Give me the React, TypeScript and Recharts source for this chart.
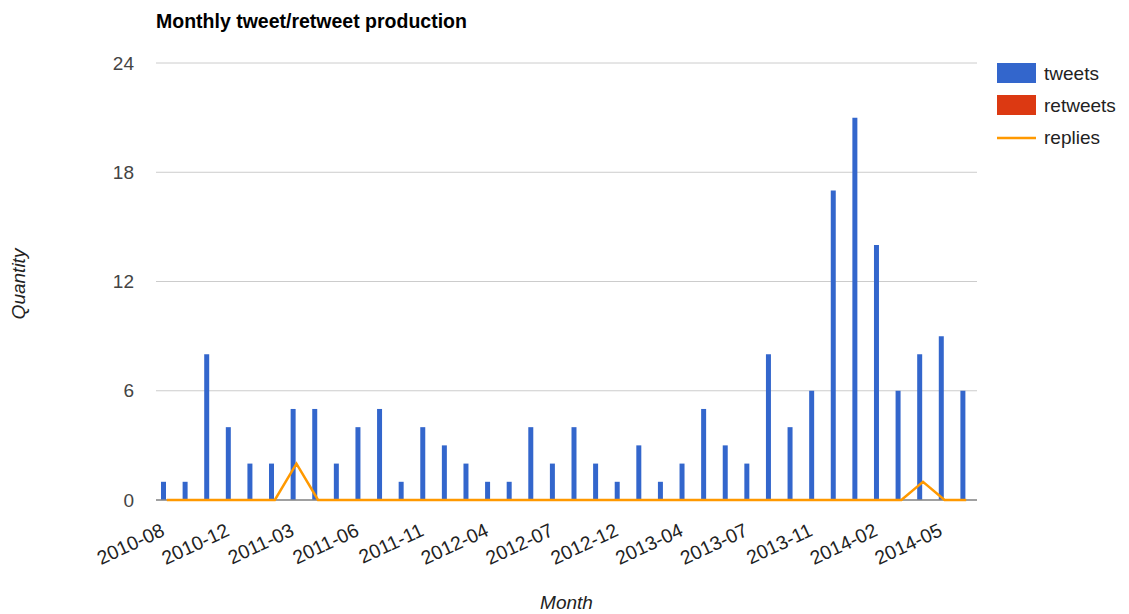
import React from 'react';
import { ComposedChart, Bar, Line, XAxis, YAxis, CartesianGrid, Legend, Label, ReferenceLine } from 'recharts';

const months = [
  '2010-08', '2010-09', '2010-10', '2010-12', '2011-01', '2011-02', '2011-03', '2011-04', '2011-05', '2011-06',
  '2011-07', '2011-09', '2011-11', '2011-12', '2012-02', '2012-04', '2012-05', '2012-06', '2012-07', '2012-09',
  '2012-10', '2012-12', '2013-01', '2013-03', '2013-04', '2013-05', '2013-06', '2013-07', '2013-08', '2013-10',
  '2013-11', '2013-12', '2014-01', '2014-02', '2014-03', '2014-04', '2014-05', '2014-06',
];
const tweets = [1, 1, 8, 4, 2, 2, 5, 5, 2, 4, 5, 1, 4, 3, 2, 1, 1, 4, 2, 4, 2, 1, 3, 1, 2, 5, 3, 2, 8, 4, 6, 17, 21, 14, 6, 8, 9, 6];
const retweets = [0, 0, 0, 0, 0, 0, 0, 0, 0, 0, 0, 0, 0, 0, 0, 0, 0, 0, 0, 0, 0, 0, 0, 0, 0, 0, 0, 0, 0, 0, 0, 0, 0, 0, 0, 0, 0, 0];
const replies = [0, 0, 0, 0, 0, 0, 2, 0, 0, 0, 0, 0, 0, 0, 0, 0, 0, 0, 0, 0, 0, 0, 0, 0, 0, 0, 0, 0, 0, 0, 0, 0, 0, 0, 0, 1, 0, 0];
const yTicks = [0, 6, 12, 18, 24];

const data = months.map((m, i) => ({ month: m, tweets: tweets[i], retweets: retweets[i], replies: replies[i] }));

const FONT = '"Liberation Sans", Arial, sans-serif';
const BLUE = '#3366cc';
const RED = '#dc3912';
const ORANGE = '#ff9900';

const XTick = (props: any) => {
  const { x, payload } = props;
  return (
    <text
      transform={`translate(${x - 1},535) rotate(-25)`}
      textAnchor="end"
      fontSize={19.5}
      fontFamily={FONT}
      fill="#222"
    >
      {payload.value}
    </text>
  );
};

const LegendContent = () => {
  const items = [
    { name: 'tweets', type: 'rect', color: BLUE },
    { name: 'retweets', type: 'rect', color: RED },
    { name: 'replies', type: 'line', color: ORANGE },
  ];
  return (
    <svg width={130} height={100} style={{ display: 'block' }}>
      {items.map((it, i) => (
        <g key={it.name} transform={`translate(0,${i * 32})`}>
          {it.type === 'rect' ? (
            <rect x={0} y={3} width={39} height={20} fill={it.color} />
          ) : (
            <line x1={0} x2={39} y1={14} y2={14} stroke={it.color} strokeWidth={2.5} />
          )}
          <text x={47} y={20} fontSize={19} fontFamily={FONT} fill="#222">
            {it.name}
          </text>
        </g>
      ))}
    </svg>
  );
};

export default function App() {
  return (
    <div style={{ position: 'absolute', left: 0, top: 0, width: 1129, height: 614, background: '#fff' }}>
      <div
        style={{
          position: 'absolute',
          left: 156,
          top: 10,
          fontFamily: FONT,
          fontWeight: 'bold',
          fontSize: 19.5,
          color: '#000',
          whiteSpace: 'nowrap',
        }}
      >
        Monthly tweet/retweet production
      </div>
      <ComposedChart
        width={1129}
        height={614}
        data={data}
        margin={{ top: 63, right: 152, bottom: 0, left: 0 }}
        barGap={1}
        style={{ fontFamily: FONT }}
      >
        <CartesianGrid horizontal vertical={false} stroke="#cccccc" />
        <XAxis
          dataKey="month"
          height={114}
          interval={2}
          tickLine={false}
          axisLine={false}
          tick={<XTick />}
        >
          <Label
            content={() => (
              <text x={566.5} y={609} textAnchor="middle" fontSize={19} fontStyle="italic" fontFamily={FONT} fill="#222">
                Month
              </text>
            )}
          />
        </XAxis>
        <YAxis
          width={156}
          domain={[0, 24]}
          ticks={yTicks}
          axisLine={false}
          tickLine={false}
          tickMargin={16}
          tick={{ fontSize: 19, fill: '#444', fontFamily: FONT }}
        >
          <Label
            content={() => (
              <text
                transform="translate(25,284) rotate(-90)"
                textAnchor="middle"
                fontSize={19}
                fontStyle="italic"
                fontFamily={FONT}
                fill="#222"
              >
                Quantity
              </text>
            )}
          />
        </YAxis>
        <Legend
          layout="vertical"
          align="center"
          verticalAlign="middle"
          content={<LegendContent />}
          wrapperStyle={{ left: 997, top: 60, width: 130 }}
        />
        <ReferenceLine y={0} stroke="#888" strokeWidth={1.5} />
        <Bar dataKey="tweets" fill={BLUE} barSize={5} isAnimationActive={false} />
        <Bar dataKey="retweets" fill={RED} barSize={5} isAnimationActive={false} />
        <Line
          dataKey="replies"
          stroke={ORANGE}
          strokeWidth={2.5}
          dot={false}
          activeDot={false}
          type="linear"
          isAnimationActive={false}
        />
      </ComposedChart>
    </div>
  );
}
